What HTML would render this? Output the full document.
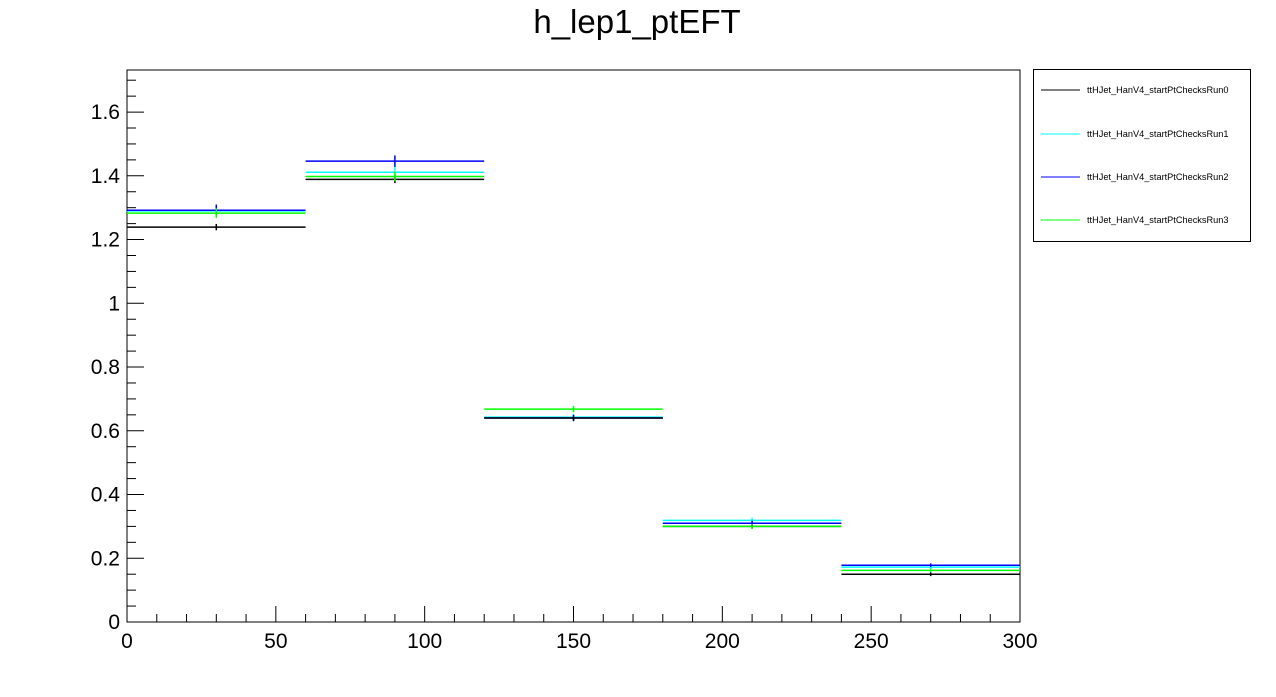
<!DOCTYPE html>
<html><head><meta charset="utf-8"><style>
body{margin:0;background:#fff;}
svg text{font-family:"Liberation Sans",sans-serif;}
</style></head><body>
<svg id="chart" width="1276" height="692" xmlns="http://www.w3.org/2000/svg">
<text x="637" y="33" font-size="33" text-anchor="middle">h_lep1_ptEFT</text>
<rect x="127" y="70" width="893" height="552" fill="none" stroke="#000" stroke-width="1"/>
<g id="axes"></g>
<g id="marks"></g>
<g>
<rect x="1033.5" y="69.5" width="217" height="172" fill="#fff" stroke="#000"/>
<g id="legend"></g>
</g>
</svg>
<script>
const binEdges=[0,60,120,180,240,300];
const seriesNames=["ttHJet_HanV4_startPtChecksRun0","ttHJet_HanV4_startPtChecksRun1","ttHJet_HanV4_startPtChecksRun2","ttHJet_HanV4_startPtChecksRun3"];
const seriesColors=["#000000","#00ffff","#0000ff","#00ff00"];
const run0=[1.239,1.389,0.640,0.300,0.150];
const run1=[1.290,1.411,0.643,0.319,0.172];
const run2=[1.292,1.446,0.640,0.310,0.178];
const run3=[1.283,1.398,0.668,0.300,0.162];
const run0Err=[0.01,0.012,0.008,0.007,0.006];
const run1Err=[0.015,0.018,0.01,0.008,0.006];
const run2Err=[0.018,0.018,0.01,0.008,0.006];
const run3Err=[0.015,0.015,0.01,0.008,0.006];
const xTicks=[0,50,100,150,200,250,300];
const yTicks=[0,0.2,0.4,0.6,0.8,1,1.2,1.4,1.6];
const xMin=0,xMax=300,yMin=0,yMax=1.732;
const L=127,R=1020,T=70,B=622;
const sx=v=>L+(v-xMin)/(xMax-xMin)*(R-L);
const sy=v=>B-(v-yMin)/(yMax-yMin)*(B-T);
const NS="http://www.w3.org/2000/svg";
function mk(tag,attrs,parent){const e=document.createElementNS(NS,tag);for(const k in attrs)e.setAttribute(k,attrs[k]);parent.appendChild(e);return e;}
const axes=document.getElementById('axes');
for(let v=0;v<=300;v+=10){
  const major=v%50===0;
  const t=mk('line',{x1:sx(v),x2:sx(v),y1:B,y2:B-(major?16:8),stroke:'#000'},axes);
  
  
}
xTicks.forEach(v=>{
  const t=mk('text',{x:sx(v),y:B+26,'font-size':21,'text-anchor':'middle'},axes);
  t.textContent=String(v);
  
  
});
for(let i=0;i*0.05<=yMax;i++){
  const v=i*0.05;const major=i%4===0;
  const t=mk('line',{x1:L,x2:L+(major?17:9),y1:sy(v),y2:sy(v),stroke:'#000'},axes);
  
  
}
yTicks.forEach(v=>{
  const t=mk('text',{x:L-7,y:sy(v)+7,'font-size':21,'text-anchor':'end'},axes);
  t.textContent=String(v);
  
  
});
const marks=document.getElementById('marks');
const allVals=[run0,run1,run2,run3],allErr=[run0Err,run1Err,run2Err,run3Err];
const drawOrder=[1,2,0,3];
drawOrder.forEach(s=>{
  const vals=allVals[s];
  const g=mk('g',{},marks);
  
  
  vals.forEach((v,i)=>{
    const x0=sx(binEdges[i]),x1=sx(binEdges[i+1]),xc=(x0+x1)/2,y=sy(v);
    const h=mk('line',{x1:x0,x2:x1,y1:y,y2:y,stroke:seriesColors[s],'stroke-width':1.5},g);
    
    
    const e=mk('line',{x1:xc,x2:xc,y1:sy(v+allErr[s][i]),y2:sy(v-allErr[s][i]),stroke:seriesColors[s],'stroke-width':1.5},g);
    
    
  });
});
const leg=document.getElementById('legend');
const legY=[90,134,177,220];
seriesNames.forEach((n,s)=>{
  const g=mk('g',{},leg);
  
  
  mk('line',{x1:1041,x2:1080,y1:legY[s],y2:legY[s],stroke:seriesColors[s],'stroke-width':1},g);
  const t=mk('text',{x:1087,y:legY[s]+3,'font-size':9.2},g);
  t.textContent=n;
});
</script>
</body></html>
